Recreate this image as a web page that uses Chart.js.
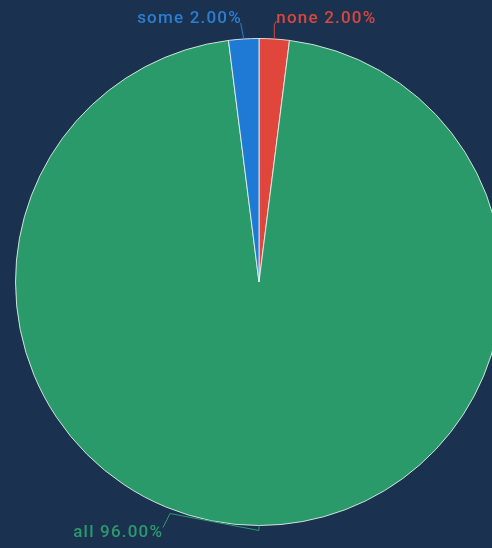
<!DOCTYPE html>
<html>
<head>
<meta charset="utf-8">
<script src="https://cdn.jsdelivr.net/npm/chart.js@4"></script>
<style>
  html, body { margin: 0; padding: 0; background: #1b3150; overflow: hidden; width: 492px; height: 548px; }
  #wrap { position: absolute; left: 0; top: 0; width: 518px; height: 548px; }
</style>
</head>
<body>
<div id="wrap"><canvas id="c" width="518" height="548"></canvas></div>
<script>
const categories = ["none", "all", "some"];
const values = [2, 96, 2];
const sliceColors = ["#e0463b", "#2a9a6b", "#1f7ad6"];
const labelColors = ["#d9473d", "#2c9a6c", "#2b7fd2"];

const labelPlugin = {
  id: 'outLabels',
  afterDatasetsDraw(chart) {
    const ctx = chart.ctx;
    const meta = chart.getDatasetMeta(0);
    const total = values.reduce((a, b) => a + b, 0);
    const sp = 1.2;
    ctx.save();
    ctx.font = '500 17px Roboto, "Noto Sans", sans-serif';
    ctx.letterSpacing = sp + 'px';
    ctx.textBaseline = 'middle';
    ctx.textAlign = 'left';
    ctx.lineWidth = 1;
    meta.data.forEach((arc, i) => {
      const p = arc.getProps(['x', 'y', 'startAngle', 'endAngle', 'outerRadius'], true);
      const mid = (p.startAngle + p.endAngle) / 2;
      const ax = p.x + Math.cos(mid) * p.outerRadius;
      const ay = p.y + Math.sin(mid) * p.outerRadius;
      const text = categories[i] + ' ' + (values[i] / total * 100).toFixed(2) + '%';
      const w = ctx.measureText(text).width - sp;
      ctx.strokeStyle = labelColors[i];
      ctx.fillStyle = labelColors[i];
      ctx.beginPath();
      let tx, ty;
      if (Math.sin(mid) < -0.5) {
        if (Math.cos(mid) < 0) {
          ctx.moveTo(ax, ay);
          ctx.lineTo(ax - 3, ay - 16);
          tx = ax - 3 - w; ty = ay - 20;
        } else {
          ctx.moveTo(ax, ay);
          ctx.lineTo(ax, ay - 14);
          ctx.lineTo(ax + 2, ay - 18);
          tx = ax + 2; ty = ay - 20;
        }
      } else {
        ctx.moveTo(ax, ay);
        ctx.lineTo(ax, ay + 5);
        ctx.lineTo(ax - 89, ay - 12);
        ctx.lineTo(ax - 96, ay + 2);
        tx = ax - 97 - w; ty = ay + 7;
      }
      ctx.stroke();
      ctx.fillText(text, tx, ty);
    });
    ctx.restore();
  }
};

new Chart(document.getElementById('c'), {
  type: 'pie',
  data: {
    labels: categories,
    datasets: [{
      data: values,
      backgroundColor: sliceColors,
      borderColor: 'rgba(235,245,240,0.85)',
      borderWidth: 1
    }]
  },
  options: {
    responsive: false,
    animation: false,
    layout: { padding: { top: 38, bottom: 22, left: 15, right: 15 } },
    plugins: { legend: { display: false }, tooltip: { enabled: false } }
  },
  plugins: [labelPlugin]
});
</script>
</body>
</html>
